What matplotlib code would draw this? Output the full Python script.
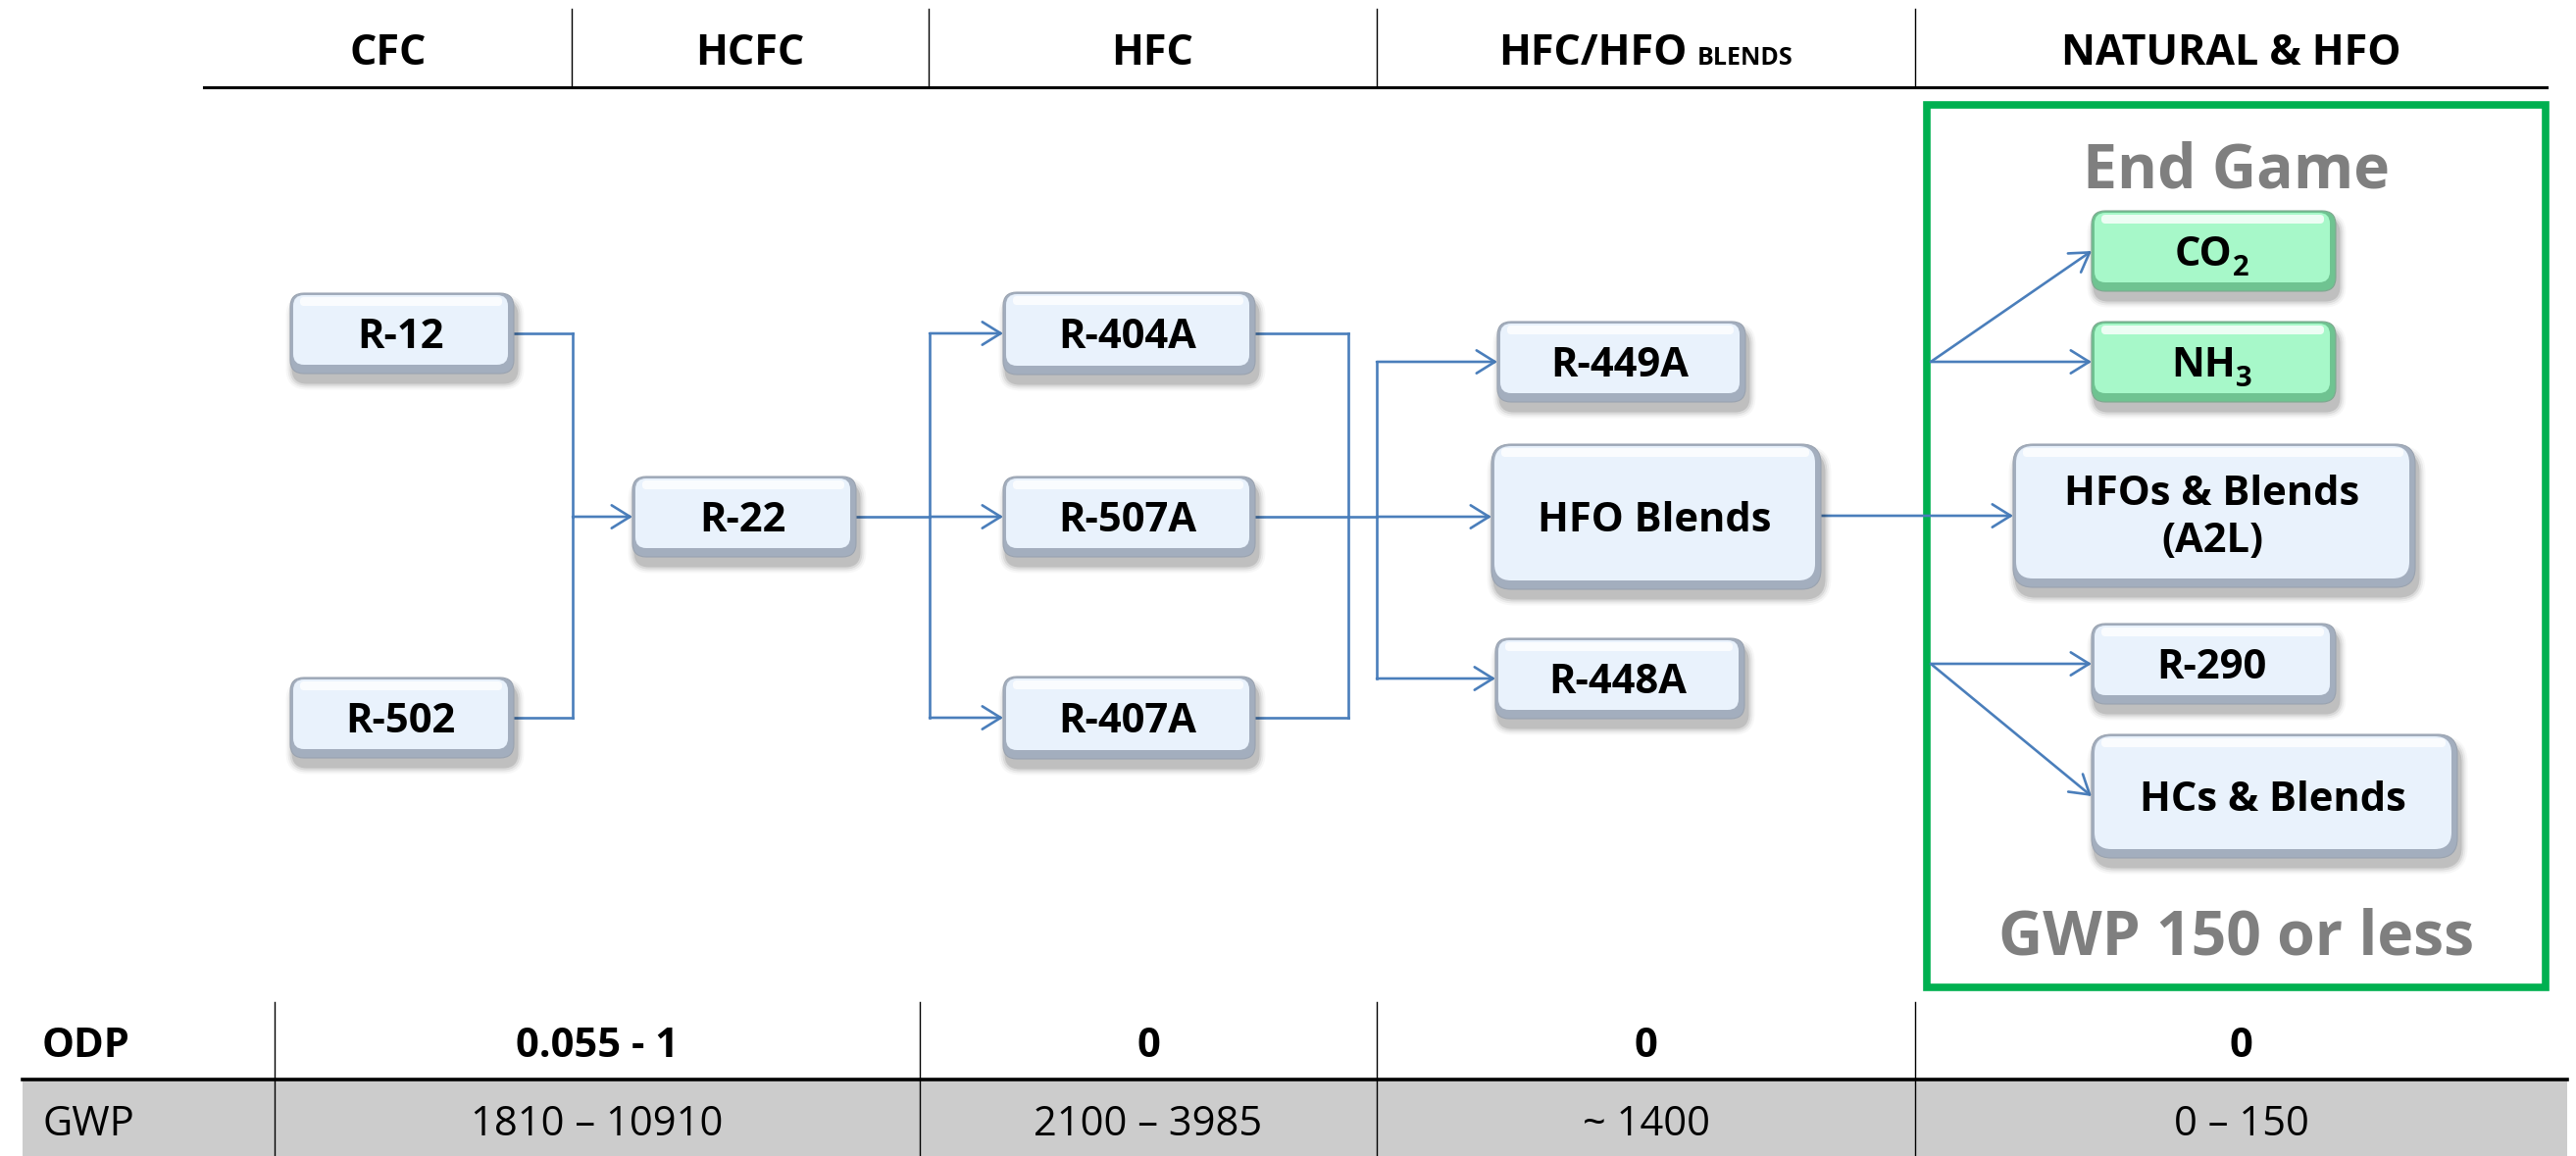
"""
Refrigerant transition roadmap: CFC -> HCFC -> HFC -> HFC/HFO blends -> natural & HFO.
Rebuilt as a matplotlib diagram drawn in pixel coordinates.
"""

import matplotlib
matplotlib.use("Agg")
import matplotlib.pyplot as plt
from matplotlib.patches import FancyBboxPatch, Rectangle

W, H = 2627, 1179
FONT = ["Open Sans", "DejaVu Sans"]

# ---------------------------------------------------------------------------
# Data
# ---------------------------------------------------------------------------

ERAS = ["CFC", "HCFC", "HFC", "HFC/HFO", "NATURAL & HFO"]
ERA_SUFFIX = ["", "", "", "BLENDS", ""]

REFRIGERANTS = ["R-12", "R-502", "R-22", "R-404A", "R-507A", "R-407A",
                "R-449A", "HFO Blends", "R-448A",
                "CO2", "NH3", "HFOs & Blends (A2L)", "R-290", "HCs & Blends"]
NATURAL = ["CO2", "NH3"]
# label shown in the box: (main text, subscript)
BOX_TEXT = {
    "CO2": ("CO", "2"),
    "NH3": ("NH", "3"),
    "HFOs & Blends (A2L)": ("HFOs & Blends\n(A2L)", ""),
}

# (source, target) transitions
TRANSITIONS = [
    ("R-12", "R-22"), ("R-502", "R-22"),
    ("R-22", "R-404A"), ("R-22", "R-507A"), ("R-22", "R-407A"),
    ("R-404A", "R-449A"), ("R-404A", "HFO Blends"), ("R-404A", "R-448A"),
    ("R-507A", "R-449A"), ("R-507A", "HFO Blends"), ("R-507A", "R-448A"),
    ("R-407A", "R-449A"), ("R-407A", "HFO Blends"), ("R-407A", "R-448A"),
    ("HFO Blends", "HFOs & Blends (A2L)"),
]
# end-game options fanned out from the frame edge: (target, fan origin box)
FANS = [("CO2", "NH3"), ("NH3", "NH3"), ("R-290", "R-290"), ("HCs & Blends", "R-290")]

ROW_LABELS = ["ODP", "GWP"]
ODP = ["0.055 - 1", "0", "0", "0"]
GWP = ["1810 \u2013 10910", "2100 \u2013 3985", "~ 1400", "0 \u2013 150"]

# ---------------------------------------------------------------------------
# Layout (pixels, y downwards)
# ---------------------------------------------------------------------------

BOX = {
    "R-12": (296, 299, 524, 381),
    "R-502": (296, 691, 524, 773),
    "R-22": (645, 486, 873, 568),
    "R-404A": (1023, 298, 1280, 382),
    "R-507A": (1023, 486, 1280, 568),
    "R-407A": (1023, 690, 1280, 774),
    "R-449A": (1527, 328, 1780, 410),
    "HFO Blends": (1521, 453, 1857, 601),
    "R-448A": (1525, 651, 1779, 733),
    "CO2": (2133, 215, 2382, 297),
    "NH3": (2133, 328, 2382, 410),
    "HFOs & Blends (A2L)": (2053, 453, 2463, 599),
    "R-290": (2133, 636, 2382, 718),
    "HCs & Blends": (2133, 749, 2506, 875),
}
# elbow routing: source -> (bus1 x, bus2 x)
BUS = {"R-12": (584, 584), "R-502": (584, 584), "R-22": (948, 948),
       "R-404A": (1375, 1404), "R-507A": (1375, 1404), "R-407A": (1375, 1404)}

HEAD_Y, HEAD_X0, HEAD_X1 = 89, 208, 2597
HEAD_DIV = [583, 947, 1404, 1953]
TAB_X0, TAB_TOP, TAB_MID, TAB_X1 = 23, 1022, 1101, 2618
TAB_DIV = [280, 938, 1404, 1953]
FRAME = (1965, 107, 2596, 1007)

BLUE = "#4A7EBB"
GREEN = "#00B050"
GREY_TXT = "#7F7F7F"
BOX_FS = 30


def _cy(name):
    x0, y0, x1, y1 = BOX[name]
    return (y0 + y1) / 2


def _draw_box(ax, renderer, name):
    x0, y0, x1, y1 = BOX[name]
    w, h = x1 - x0, y1 - y0
    r = 14 if h < 100 else 20
    green = name in NATURAL
    face = "#A7F8C9" if green else "#E9F2FC"
    rim = "#6FC391" if green else "#A3AEBE"
    edge = "#7FA890" if green else "#9AA3B0"

    # soft drop shadow
    for k, a in enumerate([0.11, 0.08, 0.05, 0.03]):
        g = 3 + 4 * k
        ax.add_patch(FancyBboxPatch(
            (x0 + 3 - g / 2, y0 + 9 - g / 2), w + g, h + g,
            boxstyle=f"round,pad=0,rounding_size={r + g / 2}",
            fc="black", ec="none", alpha=a, zorder=2))
    # bevelled body
    ax.add_patch(FancyBboxPatch(
        (x0, y0), w, h, boxstyle=f"round,pad=0,rounding_size={r}",
        fc=rim, ec=edge, lw=0.8, zorder=3))
    ax.add_patch(FancyBboxPatch(
        (x0 + 3, y0 + 2), w - 9, h - 11,
        boxstyle=f"round,pad=0,rounding_size={r - 3}",
        fc=face, ec="none", zorder=4))
    ax.add_patch(FancyBboxPatch(
        (x0 + 10, y0 + 4), w - 22, 9,
        boxstyle="round,pad=0,rounding_size=4",
        fc="white", ec="none", alpha=0.8, zorder=5))

    main, sub = BOX_TEXT.get(name, (name, ""))
    cx, cy = (x0 + x1) / 2 - 2, (y0 + y1) / 2
    lines = main.split("\n")
    if sub:
        t1 = ax.text(0, cy + 15, main, ha="left", va="baseline", fontsize=BOX_FS,
                     fontweight="bold", family=FONT, zorder=6)
        t2 = ax.text(0, cy + 25, sub, ha="left", va="baseline", fontsize=21,
                     fontweight="bold", family=FONT, zorder=6)
        w1 = t1.get_window_extent(renderer).width
        w2 = t2.get_window_extent(renderer).width
        left = cx - (w1 + w2) / 2
        t1.set_x(left)
        t2.set_x(left + w1)
    elif len(lines) == 1:
        ax.text(cx, cy + 15, main, ha="center", va="baseline", fontsize=BOX_FS,
                fontweight="bold", family=FONT, zorder=6)
    else:
        for i, ln in enumerate(lines):
            ax.text(cx, cy - 11 + 48 * i, ln, ha="center", va="baseline",
                    fontsize=BOX_FS, fontweight="bold", family=FONT, zorder=6)


def _arrow(ax, start, end):
    ax.annotate("", xy=end, xytext=start,
                arrowprops=dict(arrowstyle="->,head_length=0.45,head_width=0.28",
                                color=BLUE, lw=1.9, shrinkA=0, shrinkB=0,
                                mutation_scale=30), zorder=1)


def build():
    fig = plt.figure(figsize=(W / 100, H / 100), dpi=100)
    fig.patch.set_facecolor("white")
    ax = fig.add_axes([0, 0, 1, 1])
    ax.set_xlim(0, W)
    ax.set_ylim(H, 0)
    ax.axis("off")
    renderer = fig.canvas.get_renderer()

    # header
    ax.plot([HEAD_X0, HEAD_X1], [HEAD_Y, HEAD_Y], color="black", lw=2.2)
    for x in HEAD_DIV:
        ax.plot([x, x], [9, HEAD_Y], color="black", lw=1.0)
    edges = [HEAD_X0] + HEAD_DIV + [HEAD_X1]
    for i, (era, suf) in enumerate(zip(ERAS, ERA_SUFFIX)):
        cx = (edges[i] + edges[i + 1]) / 2
        if not suf:
            ax.text(cx, 66, era, ha="center", va="baseline", fontsize=31,
                    fontweight="bold", family=FONT)
            continue
        t1 = ax.text(0, 66, era, ha="left", va="baseline", fontsize=31,
                     fontweight="bold", family=FONT)
        t2 = ax.text(0, 66, suf, ha="left", va="baseline", fontsize=18,
                     fontweight="bold", family=FONT)
        w1 = t1.get_window_extent(renderer).width
        w2 = t2.get_window_extent(renderer).width
        gap = 10
        left = cx - (w1 + gap + w2) / 2
        t1.set_x(left)
        t2.set_x(left + w1 + gap)

    # end-game frame
    fx0, fy0, fx1, fy1 = FRAME
    ax.add_patch(Rectangle((fx0, fy0), fx1 - fx0, fy1 - fy0, fill=False,
                           ec=GREEN, lw=5.5, zorder=1))
    ax.text((fx0 + fx1) / 2, 192, "End Game", ha="center", va="baseline",
            fontsize=45, fontweight="bold", color=GREY_TXT, family=FONT)
    ax.text((fx0 + fx1) / 2, 973, "GWP 150 or less", ha="center", va="baseline",
            fontsize=45, fontweight="bold", color=GREY_TXT, family=FONT)

    # connectors (elbows, segments de-duplicated)
    segments, heads = set(), set()
    for src, dst in TRANSITIONS:
        sx, sy = BOX[src][2], _cy(src)
        tx, ty = BOX[dst][0], _cy(dst)
        if src in BUS:
            b1, b2 = BUS[src]
            ym = _cy("R-507A") if b1 != b2 else ty
            pts = [(sx, sy), (b1, sy), (b1, ym), (b2, ym), (b2, ty)]
        else:
            b2 = sx
            pts = [(sx, sy)]
        for p, q in zip(pts[:-1], pts[1:]):
            if p != q:
                segments.add((p, q))
        heads.add(((b2, ty), (tx, ty)))
    for p, q in segments:
        ax.plot([p[0], q[0]], [p[1], q[1]], color=BLUE, lw=1.9,
                solid_capstyle="projecting", zorder=1)
    for p, q in heads:
        _arrow(ax, p, q)

    for dst, origin in FANS:
        _arrow(ax, (fx0 + 4, _cy(origin)), (BOX[dst][0], _cy(dst)))

    for name in REFRIGERANTS:
        _draw_box(ax, renderer, name)

    # bottom table
    ax.add_patch(Rectangle((TAB_X0, TAB_MID), TAB_X1 - TAB_X0, H - TAB_MID,
                           fc="#CCCCCC", ec="none", zorder=0))
    ax.plot([TAB_X0, TAB_X1], [TAB_MID, TAB_MID], color="black", lw=2.6, zorder=2)
    for x in TAB_DIV:
        ax.plot([x, x], [TAB_TOP, H], color="black", lw=1.0, zorder=2)
    tedges = TAB_DIV + [TAB_X1]
    ax.text(43, 1078, ROW_LABELS[0], ha="left", va="baseline", fontsize=30,
            fontweight="bold", family=FONT)
    ax.text(43, 1158, ROW_LABELS[1], ha="left", va="baseline", fontsize=30,
            family=FONT)
    for i in range(len(ODP)):
        cx = (tedges[i] + tedges[i + 1]) / 2
        ax.text(cx, 1078, ODP[i], ha="center", va="baseline", fontsize=30,
                fontweight="bold", family=FONT)
        ax.text(cx, 1158, GWP[i], ha="center", va="baseline", fontsize=30,
                family=FONT)

    fig.savefig("out.png", dpi=100, facecolor="white")
    plt.close(fig)


if __name__ == "__main__":
    build()
